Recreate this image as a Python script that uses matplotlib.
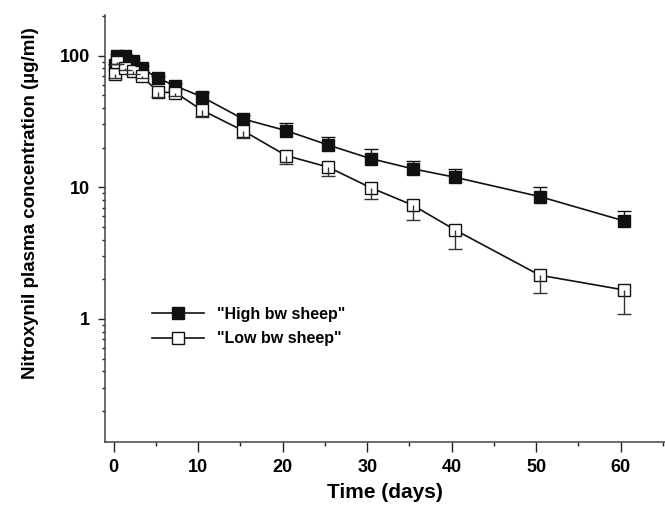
import numpy as np
import matplotlib
matplotlib.use('Agg')
import matplotlib.pyplot as plt
from matplotlib.lines import Line2D
from matplotlib.ticker import FixedLocator, LogLocator, NullFormatter

plt.rcParams['font.family'] = ['Liberation Sans', 'DejaVu Sans']
plt.rcParams['font.weight'] = 'bold'

# sampling times (days)
t = [0.1, 0.4, 1.3, 2.3, 3.3, 5.3, 7.3, 10.4, 15.3, 20.4, 25.4, 30.4, 35.4, 40.4, 50.4, 60.4]

# high body-weight sheep: mean and upper error
high = [84, 100, 99, 91, 80, 67, 58.8, 48.7, 33.0, 26.9, 20.9, 16.5, 13.8, 11.9, 8.5, 5.55]
high_err = [2, 3, 3, 3, 3, 3, 3, 4, 2.5, 4.0, 3.3, 3.0, 2.1, 1.8, 1.6, 1.1]

# low body-weight sheep: mean and lower error
low = [73, 89, 80, 76, 70, 52.6, 52.3, 38.6, 26.9, 17.4, 14.2, 9.93, 7.3, 4.74, 2.15, 1.66]
low_err = [5, 3, 3, 4, 3, 3.9, 3, 4.2, 3.4, 2.5, 2.1, 1.8, 1.65, 1.34, 0.57, 0.56]

W, H = 665, 509
fig = plt.figure(figsize=(W / 100, H / 100), dpi=100)
ax = fig.add_axes([105 / W, (H - 442) / H, (W - 105) / W, (442 - 15) / H])

col = '#111111'
ax.plot(t, high, '-', color=col, lw=1.2, marker='s', ms=8.3, mfc=col, mec=col, zorder=3)
ax.plot(t, low, '-', color=col, lw=1.2, marker='s', ms=8.3, mfc='white', mec=col, mew=1.0, zorder=3)

# one-sided error bars: up for high, down for low
high_top = np.array(high) + np.array(high_err)
low_bot = np.array(low) - np.array(low_err)
ax.vlines(t, high, high_top, color=col, lw=1.0, zorder=4)
ax.plot(t, high_top, ls='none', marker='_', ms=10, mew=1.0, color=col, zorder=4)
ax.vlines(t, low_bot, low, color='#333333', lw=1.0, zorder=4)
ax.plot(t, low_bot, ls='none', marker='_', ms=10, mew=1.0, color='#333333', zorder=4)

ax.set_yscale('log')
ax.set_ylim(0.1164, 203)
ax.set_xlim(-1.03, 65.24)

ax.xaxis.set_major_locator(FixedLocator([0, 10, 20, 30, 40, 50, 60]))
ax.xaxis.set_minor_locator(FixedLocator([5, 15, 25, 35, 45, 55, 65]))
ax.yaxis.set_major_locator(FixedLocator([1, 10, 100]))
ax.yaxis.set_minor_locator(LogLocator(base=10, subs=np.arange(2, 10)))
ax.yaxis.set_minor_formatter(NullFormatter())
ax.set_yticklabels(['1', '10', '100'])

for s in ['top', 'right']:
    ax.spines[s].set_visible(False)
for s in ['left', 'bottom']:
    ax.spines[s].set_color('#444444')
    ax.spines[s].set_linewidth(1.1)

ax.tick_params(axis='x', which='major', length=7, width=1.0, color='#222222', labelsize=13, pad=5)
ax.tick_params(axis='x', which='minor', length=3, width=1.0, color='#222222')
ax.tick_params(axis='y', which='major', length=5, width=1.0, color='#222222', labelsize=13, pad=6)
ax.tick_params(axis='y', which='minor', length=2.5, width=1.0, color='#222222')

ax.set_xlabel('Time (days)', fontsize=15, fontweight='bold', labelpad=5)
ax.set_ylabel('Nitroxynil plasma concentration (µg/ml)', fontsize=13.5, fontweight='bold')
ax.yaxis.set_label_coords(-0.118, 0.56)

handles = [
    Line2D([], [], color=col, lw=1.2, marker='s', ms=9, mfc=col, mec=col),
    Line2D([], [], color=col, lw=1.2, marker='s', ms=9, mfc='white', mec=col),
]
ax.legend(handles, ['"High bw sheep"', '"Low bw sheep"'], loc='center left',
          bbox_to_anchor=(151.7 / W, 1 - 326.3 / H), bbox_transform=fig.transFigure,
          frameon=False, borderpad=0, borderaxespad=0, handlelength=3.3,
          handletextpad=0.8, labelspacing=0.6, prop={'size': 11.5, 'weight': 'bold'})

fig.savefig('out.png', dpi=100)
